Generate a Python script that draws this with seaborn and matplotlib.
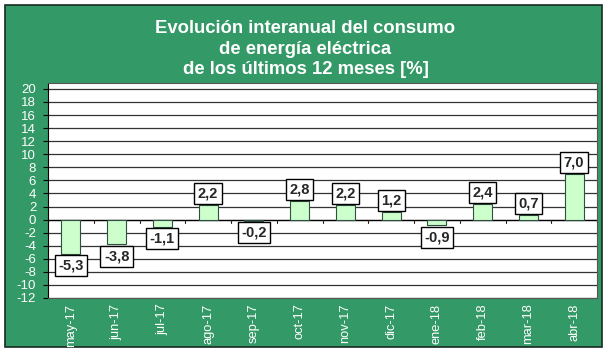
import matplotlib
matplotlib.use("Agg")
import matplotlib.pyplot as plt
import seaborn as sns
import pandas as pd
from matplotlib.patches import Rectangle

months = ["may-17", "jun-17", "jul-17", "ago-17", "sep-17", "oct-17",
          "nov-17", "dic-17", "ene-18", "feb-18", "mar-18", "abr-18"]
values = [-5.3, -3.8, -1.1, 2.2, -0.2, 2.8, 2.2, 1.2, -0.9, 2.4, 0.7, 7.0]
yticks = list(range(-12, 21, 2))
title = "Evolución interanual del consumo\nde energía eléctrica\nde los últimos 12 meses [%]"

sns.set_style("white")
plt.rcParams['font.family'] = ['Liberation Sans', 'DejaVu Sans']

GREEN = '#339966'
df = pd.DataFrame({"mes": months, "valor": values})

W, H = 611, 353
fig = plt.figure(figsize=(W / 100, H / 100), dpi=100)
fig.patch.set_facecolor('white')
fig.patches.append(Rectangle((5 / W, 1 - 347 / H), 597 / W, 342 / H,
                             transform=fig.transFigure, facecolor=GREEN,
                             edgecolor='#1a2a22', linewidth=1.2, zorder=-1))
ax = fig.add_axes([48 / W, 1 - 298 / H, 549 / W, 215 / H])
ax.set_facecolor('white')

sns.barplot(data=df, x="mes", y="valor", ax=ax, color='#ccffcc',
            edgecolor='#2f4f3f', linewidth=0.8, width=0.41, saturation=1, zorder=3)

ax.set_ylim(-12, 20.9)
ax.set_yticks(yticks)
ax.set_yticklabels([str(t) for t in yticks], color='white', fontsize=9.5)
ax.yaxis.grid(True, color='#333333', linewidth=0.9, zorder=0)
ax.set_axisbelow(True)
ax.set_xlabel("")
ax.set_ylabel("")
ax.tick_params(axis='y', length=3.5, width=0.8, color='black', pad=5, left=True)
ax.tick_params(axis='x', length=0, pad=4)
ax.set_xticks(range(len(months)))
ax.set_xticklabels(months, rotation=90, color='white', fontsize=9.3)
for s in ax.spines.values():
    s.set_color('#555555')
    s.set_linewidth(0.8)
ax.spines['left'].set_color('black')
ax.axhline(0, color='black', linewidth=0.9, zorder=2)
# small tick marks between categories on the zero line
for i in range(len(months) + 1):
    ax.plot([i - 0.5, i - 0.5], [0, -0.5], color='#222222', linewidth=0.8, zorder=2)
ax.set_xlim(-0.5, len(months) - 0.5)

for i, v in enumerate(values):
    lab = f"{v:.1f}".replace('.', ',')
    up = v >= 0
    ax.annotate(lab, (i, v), xytext=(0, 3.4 if up else -3.4), textcoords='offset points',
                ha='center', va='bottom' if up else 'top', fontsize=10.5, fontweight='bold',
                bbox=dict(boxstyle='square,pad=0.24', fc='white', ec='black', lw=1),
                zorder=5)

fig.text(0.5, 1 - 49 / H, title, ha='center', va='center', color='white',
         fontsize=13.3, fontweight='bold', linespacing=1.3)

fig.savefig("out.png", dpi=100)
